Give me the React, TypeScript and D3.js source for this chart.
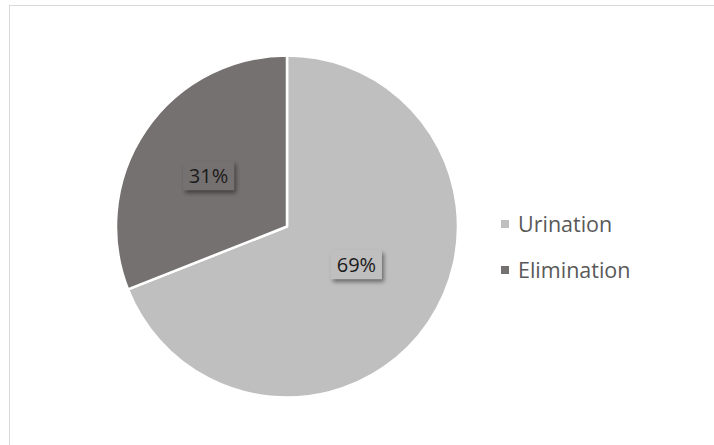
import React from "react";
import * as d3 from "d3";

const categories = ["Urination", "Elimination"];
const values = [69, 31];
const colors = ["#bfbfbf", "#767171"];

const W = 714;
const H = 445;
const cx = 287;
const cy = 226.5;
const R = 171;

export default function App() {
  const pie = d3.pie<number>().sort(null).startAngle(0).endAngle(2 * Math.PI);
  const arcs = pie(values);
  const arcGen = d3.arc<d3.PieArcDatum<number>>().innerRadius(0).outerRadius(R);
  const total = d3.sum(values);
  const labelFactor = [0.463, 0.547];
  const labelShift = [-5.5, -1.2];
  const legendY = d3.scalePoint<string>().domain(categories).range([224, 270]);
  const font = "'Open Sans', 'Noto Sans', sans-serif";

  return (
    <svg
      width={W}
      height={H}
      style={{ position: "absolute", left: 0, top: 0, background: "#fff" }}
    >
      <defs>
        <filter id="sh" x="-30%" y="-30%" width="160%" height="170%">
          <feGaussianBlur in="SourceAlpha" stdDeviation="2" />
          <feOffset dx="1.5" dy="3" result="b" />
          <feComponentTransfer>
            <feFuncA type="linear" slope="0.45" />
          </feComponentTransfer>
          <feMerge>
            <feMergeNode />
            <feMergeNode in="SourceGraphic" />
          </feMerge>
        </filter>
      </defs>
      <rect x={9.5} y={5.5} width={W + 20} height={H + 20} fill="#fff" stroke="#d9d9d9" strokeWidth={1} />
      <g transform={`translate(${cx},${cy})`}>
        {arcs.map((a, i) => (
          <path key={i} d={arcGen(a) || ""} fill={colors[i]} stroke="#fff" strokeWidth={2.5} strokeLinejoin="round" />
        ))}
        {arcs.map((a, i) => {
          const mid = (a.startAngle + a.endAngle) / 2 + (labelShift[i] * Math.PI) / 180;
          const r = R * labelFactor[i];
          const x = Math.sin(mid) * r;
          const y = -Math.cos(mid) * r;
          const txt = `${Math.round((values[i] / total) * 100)}%`;
          return (
            <g key={"l" + i} transform={`translate(${x},${y})`}>
              <rect x={-25.5} y={-14.5} width={51} height={29} fill={colors[i]} filter="url(#sh)" />
              <text
                x={0}
                y={7}
                textAnchor="middle"
                fontFamily={font}
                fontSize={20}
                fill="#1a1a1a"
              >
                {txt}
              </text>
            </g>
          );
        })}
      </g>
      {categories.map((c, i) => {
        const y = legendY(c) as number;
        return (
          <g key={c}>
            <rect x={501} y={y - 4} width={8} height={8} fill={colors[i]} />
            <text x={518} y={y + 7.5} fontFamily={font} fontSize={21.5} fill="#595959">
              {c}
            </text>
          </g>
        );
      })}
    </svg>
  );
}
